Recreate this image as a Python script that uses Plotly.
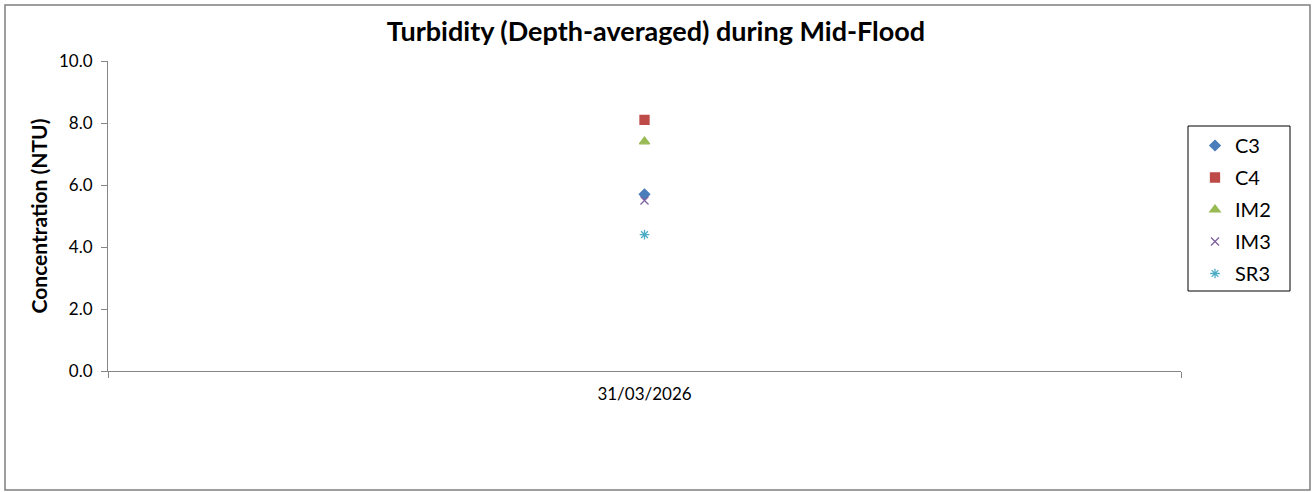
import plotly.graph_objects as go

dates = ["31/03/2026"]
series_names = ["C3", "C4", "IM2", "IM3", "SR3"]
c3 = [5.7]
c4 = [8.1]
im2 = [7.4]
im3 = [5.5]
sr3 = [4.4]

values = [c3, c4, im2, im3, sr3]
colors = ["#4A7EBB", "#BE4B48", "#98B954", "#7D60A0", "#4BACC6"]
symbols = ["diamond", "square", "triangle-up", "x-thin", "asterisk"]
sizes = [8, 9, 9, 8, 8]

FONT = "Lato, Open Sans, sans-serif"
W, H = 1312, 492
L, R, T, B = 108, 131, 61, 121
PW, PH = W - L - R, H - T - B


def px(x):
    return (x - L) / PW


def py(y):
    return (H - B - y) / PH


fig = go.Figure()
for name, vals, col, sym, sz in zip(series_names, values, colors, symbols, sizes):
    fig.add_trace(go.Scatter(
        x=dates, y=vals, mode="markers", name=name, legendgroup=name,
        marker=dict(symbol=sym, color=col, size=sz,
                    line=dict(color=col, width=1.3)),
    ))

fig.update_layout(
    width=W, height=H,
    margin=dict(l=L, r=R, t=T, b=B),
    paper_bgcolor="white", plot_bgcolor="white",
    font=dict(family=FONT, color="#000000"),
    title=dict(text="<b>Turbidity (Depth-averaged) during Mid-Flood</b>",
               x=0.5, xref="container", xanchor="center",
               y=0.935, yanchor="middle",
               font=dict(size=27, family=FONT)),
    legend=dict(x=px(1195), xanchor="left", y=py(126), yanchor="top",
                borderwidth=0, bgcolor="rgba(0,0,0,0)",
                font=dict(size=20, family=FONT),
                traceorder="grouped", tracegroupgap=3,
                itemwidth=30),
    xaxis=dict(type="category", range=[-0.5, 0.5], tickson="boundaries",
               showline=True, linecolor="#868686", linewidth=1,
               ticks="outside", ticklen=6, tickcolor="#868686",
               showgrid=False, zeroline=False, ticklabelstandoff=8,
               tickfont=dict(size=17, family=FONT)),
    yaxis=dict(range=[0, 10], dtick=2, tickformat=".1f",
               showline=True, linecolor="#868686", linewidth=1,
               ticks="outside", ticklen=6, tickcolor="#868686",
               showgrid=False, zeroline=False, ticklabelstandoff=5,
               tickfont=dict(size=17, family=FONT),
               title=dict(text="<b>Concentration (NTU)</b>", standoff=5,
                          font=dict(size=21, family=FONT))),
    showlegend=True,
)

# legend frame
fig.add_shape(type="rect", xref="paper", yref="paper",
              x0=px(1188), x1=px(1290), y0=py(291), y1=py(126),
              line=dict(color="#000000", width=1), fillcolor="rgba(0,0,0,0)")

# outer chart border
fig.add_shape(type="rect", xref="paper", yref="paper",
              x0=px(5), x1=px(1310), y0=py(490), y1=py(5),
              line=dict(color="#7f7f7f", width=1.5), fillcolor="rgba(0,0,0,0)")

fig.write_html("out.html", config={"displayModeBar": False},
               post_script="document.body.style.margin='0px';")
